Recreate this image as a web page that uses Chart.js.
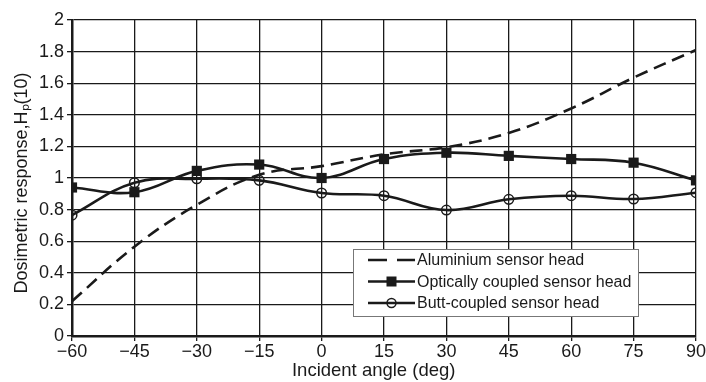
<!DOCTYPE html>
<html>
<head>
<meta charset="utf-8">
<script src="https://cdn.jsdelivr.net/npm/chart.js@4/dist/chart.umd.min.js"></script>
<style>
  html, body { margin: 0; padding: 0; background: #fff; }
  #wrap { width: 706px; height: 382px; position: relative; }
</style>
</head>
<body>
<div id="wrap"><canvas id="chart"></canvas></div>
<script>
// incident angle in degrees
var angles = [-60, -45, -30, -15, 0, 15, 30, 45, 60, 75, 90];

var aluminium = [0.22, 0.565, 0.83, 1.02, 1.075, 1.15, 1.195, 1.285, 1.44, 1.635, 1.81];
var optical = [0.94, 0.91, 1.045, 1.085, 1.0, 1.12, 1.16, 1.14, 1.12, 1.097, 0.985];
var buttCoupled = [0.765, 0.97, 0.995, 0.985, 0.905, 0.888, 0.797, 0.865, 0.888, 0.867, 0.907];

var seriesNames = ['Aluminium sensor head', 'Optically coupled sensor head', 'Butt-coupled sensor head'];

var ink = '#1a1a1a';
var font = 'Liberation Sans, Arial, sans-serif';

function toPoints(vals) {
    return vals.map(function (v, i) { return { x: angles[i], y: v }; });
}

var legendBox = {
    id: 'legendBox',
    afterDraw: function (chart) {
        var ctx = chart.ctx;
        var x = 353, y = 249, w = 285, h = 67;
        ctx.save();
        ctx.fillStyle = '#fff';
        ctx.fillRect(x, y, w, h);
        ctx.strokeStyle = '#777';
        ctx.lineWidth = 1;
        ctx.strokeRect(x + 0.5, y + 0.5, w, h);

        var rows = [260, 281.5, 303];
        ctx.strokeStyle = ink;
        ctx.lineWidth = 2.5;
        // dashed sample: two dashes
        ctx.beginPath();
        ctx.moveTo(368, rows[0]); ctx.lineTo(387, rows[0]);
        ctx.moveTo(397, rows[0]); ctx.lineTo(415, rows[0]);
        ctx.stroke();
        ctx.beginPath(); ctx.moveTo(368, rows[1]); ctx.lineTo(415, rows[1]); ctx.stroke();
        ctx.fillStyle = ink;
        ctx.fillRect(386.5, rows[1] - 5, 10, 10);
        ctx.beginPath(); ctx.moveTo(368, rows[2]); ctx.lineTo(415, rows[2]); ctx.stroke();
        ctx.lineWidth = 1.5;
        ctx.beginPath(); ctx.arc(391.5, rows[2], 4.5, 0, Math.PI * 2); ctx.stroke();

        ctx.fillStyle = ink;
        ctx.font = '16px ' + font;
        ctx.textBaseline = 'middle';
        ctx.textAlign = 'left';
        for (var i = 0; i < 3; i++) {
            ctx.fillText(seriesNames[i], 417, rows[i] + 1);
        }
        ctx.restore();
    }
};

new Chart(document.getElementById('chart'), {
    type: 'line',
    data: {
        datasets: [{
            label: seriesNames[0],
            data: toPoints(aluminium),
            borderColor: ink,
            borderWidth: 2.6,
            borderDash: [13, 7],
            pointRadius: 0,
            tension: 0.4,
            fill: false
        }, {
            label: seriesNames[1],
            data: toPoints(optical),
            borderColor: ink,
            backgroundColor: ink,
            borderWidth: 2.6,
            pointStyle: 'rect',
            pointRadius: 7.2,
            pointBorderWidth: 0,
            tension: 0.4,
            fill: false
        }, {
            label: seriesNames[2],
            data: toPoints(buttCoupled),
            borderColor: ink,
            backgroundColor: 'rgba(0,0,0,0)',
            borderWidth: 2.6,
            pointStyle: 'circle',
            pointRadius: 4.8,
            pointBorderWidth: 1.5,
            tension: 0.4,
            fill: false
        }]
    },
    options: {
        responsive: true,
        maintainAspectRatio: false,
        animation: false,
        layout: { padding: { top: 20, right: 9, left: 0, bottom: 0 } },
        plugins: {
            legend: { display: false },
            tooltip: { enabled: false }
        },
        scales: {
            x: {
                type: 'linear',
                min: -60,
                max: 90,
                afterFit: function (scale) { scale.height = 46; },
                ticks: {
                    stepSize: 15,
                    color: ink,
                    font: { family: font, size: 18 },
                    padding: 0,
                    maxRotation: 0,
                    callback: function (v) { return String(v).replace('-', '\u2212'); }
                },
                grid: { color: ink, lineWidth: 1.3, tickLength: 5, tickColor: ink },
                border: { color: ink, width: 2.5 },
                title: {
                    display: true,
                    // trailing spaces nudge the centred title a little left, as in the original
                    text: 'Incident angle (deg)    ',
                    color: ink,
                    font: { family: font, size: 18.5 },
                    padding: { top: 0, bottom: 0 }
                }
            },
            y: {
                min: 0,
                max: 2,
                afterFit: function (scale) { scale.width = 72; },
                ticks: {
                    stepSize: 0.2,
                    color: ink,
                    font: { family: font, size: 18 },
                    padding: 3,
                    callback: function (v) { return String(Math.round(v * 10) / 10); }
                },
                grid: { color: ink, lineWidth: 1.3, tickLength: 5, tickColor: ink },
                border: { color: ink, width: 2.5 },
                title: {
                    display: true,
                    text: 'Dosimetric response,H\u209A(10)  ',
                    color: ink,
                    font: { family: font, size: 18 },
                    padding: { top: 11, bottom: 0 }
                }
            }
        }
    },
    plugins: [legendBox]
});
</script>
</body>
</html>
